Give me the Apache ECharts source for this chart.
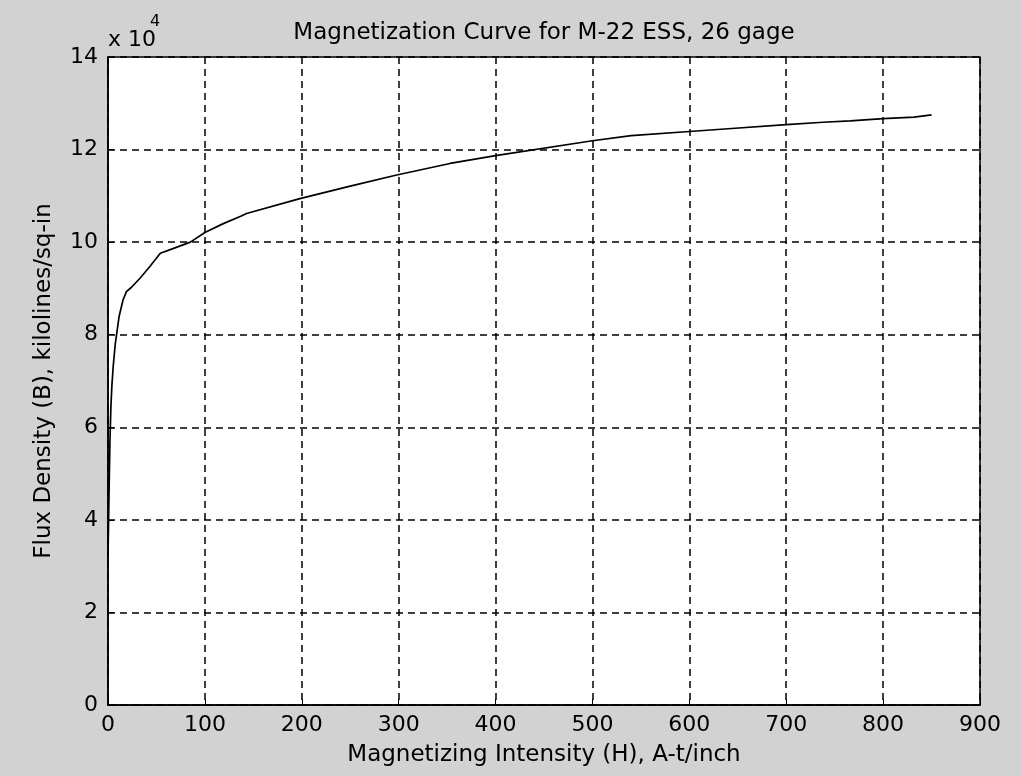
<!DOCTYPE html>
<html>
<head>
<meta charset="utf-8">
<script src="https://cdn.jsdelivr.net/npm/echarts@6/dist/echarts.min.js"></script>
<style>
html,body{margin:0;padding:0;background:#d2d2d2;}
#c{width:1022px;height:776px;}
</style>
</head>
<body>
<div id="c"></div>
<script>
// Magnetizing intensity H (A-t/inch)
const H = [0, 1, 2, 3, 4, 5.5, 7.5, 11.5, 15.5, 19, 24, 33, 43, 54, 67, 85, 100, 119, 137, 143, 198, 250, 298, 353, 400, 500, 540, 600, 640, 700, 738, 766, 800, 832, 850];
// Flux density B (lines/sq-in)
const B = [32000, 45000, 57000, 64500, 69000, 73500, 78000, 84000, 87500, 89300, 90200, 92200, 94700, 97600, 98600, 100000, 102100, 104000, 105600, 106200, 109400, 112100, 114500, 117000, 118700, 121900, 123000, 123900, 124500, 125400, 125900, 126200, 126700, 127000, 127500];
const xTicks = [0, 100, 200, 300, 400, 500, 600, 700, 800, 900];
const yTicks = [0, 2, 4, 6, 8, 10, 12, 14];
const yScale = 10000;
const titleText = 'Magnetization Curve for M-22 ESS, 26 gage';
const xName = 'Magnetizing Intensity (H), A-t/inch';
const yName = 'Flux Density (B), kilolines/sq-in';

const FONT = 'DejaVu Sans';
const chart = echarts.init(document.getElementById('c'), null, {renderer: 'canvas'});
const dashed = {type: [7, 5], color: '#000', width: 1.5};
chart.setOption({
  backgroundColor: '#d2d2d2',
  animation: false,
  grid: {left: 108, right: 42, top: 57, bottom: 71, show: true, backgroundColor: '#ffffff', borderColor: '#000', borderWidth: 1.5},
  graphic: [
    {type: 'text', x: 544, y: 22, style: {text: titleText, font: '23px "DejaVu Sans"', fill: '#000', textAlign: 'center'}},
    {type: 'text', left: 108, top: 29, style: {text: 'x 10', font: '22px "DejaVu Sans"', fill: '#000'}},
    {type: 'text', left: 150, top: 14, style: {text: '4', font: '16px "DejaVu Sans"', fill: '#000'}}
  ],
  xAxis: {
    type: 'value', min: xTicks[0], max: xTicks[xTicks.length - 1], interval: 100,
    name: xName, nameLocation: 'middle', nameGap: 39,
    nameTextStyle: {fontFamily: FONT, fontSize: 23, color: '#000'},
    axisLine: {show: true, lineStyle: {color: '#000', width: 1.5}},
    axisTick: {show: true, inside: true, length: 6, lineStyle: {color: '#000'}},
    axisLabel: {fontFamily: FONT, fontSize: 22, color: '#000', margin: 9},
    splitLine: {show: true, lineStyle: dashed}
  },
  yAxis: {
    type: 'value', min: yTicks[0] * yScale, max: yTicks[yTicks.length - 1] * yScale, interval: 2 * yScale,
    name: yName, nameLocation: 'middle', nameGap: 52, nameRotate: 90,
    nameTextStyle: {fontFamily: FONT, fontSize: 23, color: '#000'},
    axisLine: {show: true, lineStyle: {color: '#000', width: 1.5}},
    axisTick: {show: true, inside: true, length: 6, lineStyle: {color: '#000'}},
    axisLabel: {fontFamily: FONT, fontSize: 22, color: '#000', margin: 10, formatter: v => String(v / yScale)},
    splitLine: {show: true, lineStyle: dashed}
  },
  series: [{
    type: 'line',
    data: H.map((h, i) => [h, B[i]]),
    showSymbol: false,
    lineStyle: {color: '#000', width: 1.7},
    z: 5
  }]
});
</script>
</body>
</html>
